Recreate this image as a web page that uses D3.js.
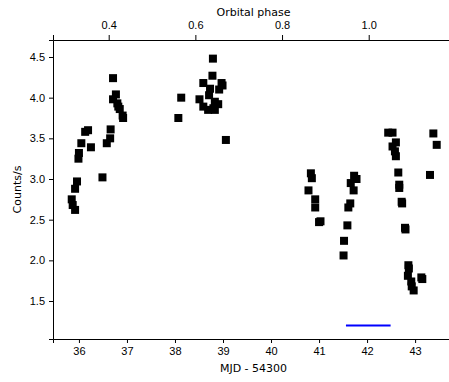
<!DOCTYPE html>
<html>
<head>
<meta charset="UTF-8">
<script src="https://d3js.org/d3.v7.min.js"></script>
<style>
  body { margin: 0; background: #fff; }
  svg { display: block; font-family: "DejaVu Sans", sans-serif; }
  .axis text { font-size: 11px; fill: #000; }
  .axis path, .axis line { stroke: #000; }
</style>
</head>
<body>
<div id="chart"></div>
<script>
// light curve, MJD - 54300 vs count rate
const mjd = [
  35.85, 35.87, 35.92, 35.92, 35.96, 35.99, 36.00, 36.05, 36.13, 36.19, 36.25, 36.49,
  36.58, 36.65, 36.66, 36.71, 36.71, 36.77, 36.80, 36.82, 36.85, 36.91, 36.92,
  38.07, 38.13, 38.51, 38.59, 38.59, 38.69, 38.71, 38.73, 38.78, 38.79, 38.80, 38.83,
  38.83, 38.90, 38.92, 38.97, 38.99, 39.06,
  40.78, 40.83, 40.85, 40.92, 40.92, 41.00, 41.03,
  41.51, 41.52, 41.59, 41.61, 41.65, 41.66, 41.72, 41.73, 41.78,
  42.44, 42.53, 42.53, 42.58, 42.60, 42.60, 42.65, 42.67, 42.67, 42.72, 42.73, 42.79,
  42.80, 42.85, 42.86, 42.87, 42.92, 42.93, 42.97, 43.13, 43.15, 43.31, 43.38, 43.45
];
const rate = [
  2.75, 2.68, 2.62, 2.88, 2.97, 3.25, 3.32, 3.44, 3.58, 3.60, 3.39, 3.02,
  3.44, 3.50, 3.61, 4.24, 3.98, 4.04, 3.93, 3.89, 3.86, 3.78, 3.75,
  3.75, 4.00, 3.98, 4.18, 3.89, 3.85, 4.03, 4.11, 4.27, 4.48, 3.87, 3.95,
  3.85, 3.92, 4.10, 4.18, 4.15, 3.48,
  2.86, 3.07, 3.01, 2.75, 2.65, 2.47, 2.48,
  2.06, 2.24, 2.43, 2.65, 2.70, 2.95, 2.86, 3.04, 3.00,
  3.57, 3.57, 3.40, 3.34, 3.45, 3.28, 3.08, 2.93, 2.89, 2.72, 2.70, 2.40,
  2.38, 1.81, 1.94, 1.90, 1.74, 1.68, 1.63, 1.79, 1.77, 3.05, 3.56, 3.42
];
const rateErr = 0.035;

// horizontal bar (eclipse / interval marker)
const barStart = 41.56, barEnd = 42.49, barLevel = 1.2;

const xTicks = [36, 37, 38, 39, 40, 41, 42, 43];
const yTicks = [1.5, 2.0, 2.5, 3.0, 3.5, 4.0, 4.5];
const phaseTicks = [0.4, 0.6, 0.8, 1.0];
const period = 9.024, phaseZero = 33.01;

const width = 449, height = 382;
const margin = { top: 40, right: -5, bottom: 43, left: 53 };

const svg = d3.select("#chart").append("svg")
  .attr("width", width).attr("height", height);

const x = d3.scaleLinear().domain([35.46, 43.81]).range([margin.left, width - margin.right]);
const y = d3.scaleLinear().domain([1.033, 4.709]).range([height - margin.bottom, margin.top]);
const toPhase = m => (m - phaseZero) / period;
const xp = d3.scaleLinear().domain(x.domain().map(toPhase)).range(x.range());

const fmt1 = d3.format(".1f");

svg.append("g").attr("class", "axis")
  .attr("transform", `translate(0,${height - margin.bottom})`)
  .call(d3.axisBottom(x).tickValues(xTicks).tickFormat(d3.format("d")).tickSizeOuter(0).tickSize(4).tickPadding(4));

svg.append("g").attr("class", "axis")
  .attr("transform", `translate(0,${margin.top})`)
  .call(d3.axisTop(xp).tickValues(phaseTicks).tickFormat(fmt1).tickSizeOuter(0).tickSize(5).tickPadding(6));

svg.append("g").attr("class", "axis")
  .attr("transform", `translate(${margin.left},0)`)
  .call(d3.axisLeft(y).tickValues(yTicks).tickFormat(fmt1).tickSizeOuter(0).tickSize(4).tickPadding(4));

// axis labels
svg.append("text").attr("x", (margin.left + width - margin.right) / 2).attr("y", 372)
  .attr("text-anchor", "middle").attr("font-size", 11).text("MJD - 54300");
svg.append("text").attr("x", (margin.left + width - margin.right) / 2).attr("y", 16)
  .attr("text-anchor", "middle").attr("font-size", 11).text("Orbital phase");
svg.append("text")
  .attr("transform", `translate(21,${(margin.top + height - margin.bottom) / 2}) rotate(-90)`)
  .attr("text-anchor", "middle").attr("font-size", 11).text("Counts/s");

// data points with error bars
const pts = mjd.map((m, i) => ({ m, r: rate[i] }));
const g = svg.append("g");
g.selectAll("line.err").data(pts).enter().append("line")
  .attr("class", "err")
  .attr("x1", d => x(d.m)).attr("x2", d => x(d.m))
  .attr("y1", d => y(d.r - rateErr)).attr("y2", d => y(d.r + rateErr))
  .attr("stroke", "#000").attr("stroke-width", 3);
g.selectAll("rect").data(pts).enter().append("rect")
  .attr("x", d => x(d.m) - 4).attr("y", d => y(d.r) - 4)
  .attr("width", 8).attr("height", 8).attr("fill", "#000");

svg.append("line")
  .attr("x1", x(barStart)).attr("x2", x(barEnd))
  .attr("y1", y(barLevel)).attr("y2", y(barLevel))
  .attr("stroke", "#0000ff").attr("stroke-width", 2);
</script>
</body>
</html>
